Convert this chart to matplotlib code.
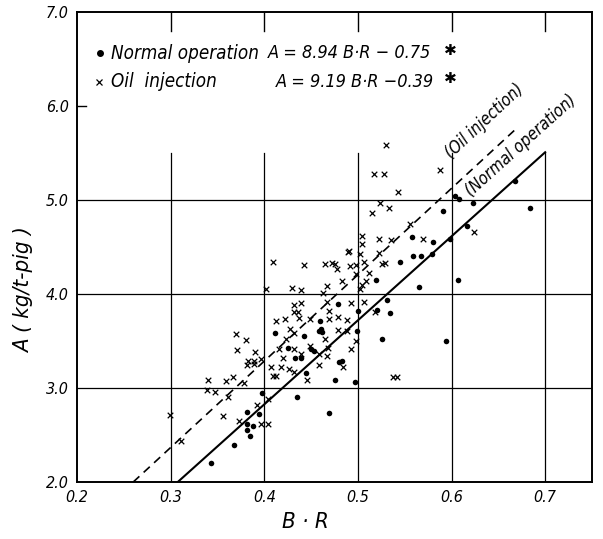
import matplotlib
matplotlib.use("Agg")
import matplotlib.pyplot as plt
from matplotlib import font_manager
import numpy as np

# ---------------- data ----------------
normal_x = [0.343, 0.368, 0.382, 0.382, 0.382, 0.388, 0.385, 0.398, 0.394, 0.435,
            0.469, 0.475, 0.497, 0.483, 0.445, 0.411, 0.442, 0.458, 0.461, 0.462,
            0.450, 0.453, 0.425, 0.433, 0.439, 0.480, 0.459, 0.479, 0.500, 0.519,
            0.499, 0.526, 0.531, 0.534, 0.545, 0.594, 0.565, 0.607, 0.559, 0.567,
            0.579, 0.598, 0.580, 0.558, 0.616, 0.591, 0.604, 0.608, 0.623, 0.668,
            0.684, 0.520]
normal_y = [2.20, 2.39, 2.75, 2.62, 2.55, 2.60, 2.49, 2.95, 2.72, 2.90,
            2.73, 3.08, 3.06, 3.29, 3.16, 3.58, 3.55, 3.61, 3.63, 3.60,
            3.41, 3.39, 3.43, 3.32, 3.32, 3.28, 3.71, 3.89, 3.82, 4.15,
            3.61, 3.52, 3.94, 3.80, 4.34, 3.50, 4.07, 4.15, 4.40, 4.40,
            4.43, 4.58, 4.55, 4.61, 4.72, 4.88, 5.04, 5.01, 4.97, 5.20,
            4.91, 3.83]

oil_x = [0.299, 0.311, 0.340, 0.339, 0.347, 0.359, 0.367, 0.378, 0.361, 0.356,
         0.373, 0.392, 0.397, 0.404, 0.404, 0.370, 0.381, 0.371, 0.382, 0.389,
         0.396, 0.390, 0.407, 0.409, 0.412, 0.418, 0.426, 0.432, 0.416, 0.420,
         0.432, 0.439, 0.449, 0.423, 0.432, 0.427, 0.412, 0.422, 0.432, 0.439,
         0.432, 0.436, 0.437, 0.449, 0.465, 0.468, 0.467, 0.458, 0.458, 0.484,
         0.446, 0.538, 0.479, 0.488, 0.498, 0.493, 0.469, 0.469, 0.479, 0.488,
         0.467, 0.493, 0.507, 0.518, 0.402, 0.430, 0.439, 0.463, 0.467, 0.483,
         0.502, 0.504, 0.509, 0.498, 0.512, 0.478, 0.409, 0.442, 0.465, 0.472,
         0.475, 0.492, 0.498, 0.507, 0.526, 0.489, 0.502, 0.530, 0.517, 0.528,
         0.543, 0.524, 0.533, 0.515, 0.588, 0.556, 0.570, 0.624, 0.504, 0.522,
         0.535, 0.504, 0.490, 0.522, 0.529, 0.542, 0.383, 0.389]
oil_y = [2.71, 2.44, 3.09, 2.98, 2.96, 3.07, 3.12, 3.05, 2.90, 2.70,
         2.65, 2.82, 2.62, 2.62, 2.88, 3.57, 3.51, 3.40, 3.25, 3.26,
         3.31, 3.38, 3.22, 3.13, 3.13, 3.22, 3.20, 3.17, 3.42, 3.32,
         3.42, 3.36, 3.45, 3.52, 3.58, 3.63, 3.71, 3.73, 3.88, 3.90,
         3.81, 3.81, 3.74, 3.73, 3.52, 3.43, 3.34, 3.36, 3.25, 3.22,
         3.08, 3.12, 3.62, 3.61, 3.50, 3.41, 3.82, 3.73, 3.76, 3.72,
         3.91, 3.90, 3.92, 3.81, 4.05, 4.06, 4.04, 4.01, 4.08, 4.14,
         4.05, 4.10, 4.14, 4.21, 4.22, 4.27, 4.34, 4.31, 4.32, 4.33,
         4.32, 4.30, 4.31, 4.34, 4.32, 4.45, 4.43, 5.58, 5.28, 5.28,
         5.08, 4.97, 4.92, 4.86, 5.32, 4.75, 4.59, 4.66, 4.62, 4.59,
         4.57, 4.53, 4.46, 4.44, 4.33, 3.12, 3.29, 3.29]

normal_coef = (8.94, -0.75)
oil_coef = (9.19, -0.39)
normal_range = (2.75 / 8.94, 0.700)
oil_range = (2.39 / 9.19, 0.668)

x_ticks = [0.2, 0.3, 0.4, 0.5, 0.6, 0.7]
y_ticks = [2.0, 3.0, 4.0, 5.0, 6.0, 7.0]

# ---------------- font ----------------
plt.rcParams['font.family'] = ['DejaVu Sans']
_f = font_manager.findfont(font_manager.FontProperties(
    family='DejaVu Sans', style='italic', stretch='condensed'))
COND = 'Condensed' in _f
STRETCH = 'condensed' if COND else 'normal'
K = 1.0 if COND else 0.9   # scale font sizes if no condensed face

def T(size):
    return dict(fontstyle='italic', fontstretch=STRETCH, fontsize=size * K)

# ---------------- figure ----------------
fig = plt.figure(figsize=(6.03, 5.39), dpi=100)
ax = fig.add_axes([77/603, 57/539, 515/603, 470/539])
ax.set_xlim(0.2, 0.75)
ax.set_ylim(2.0, 7.0)

for s in ax.spines.values():
    s.set_linewidth(1.4)
    s.set_color('black')

ax.set_xticks(x_ticks)
ax.set_yticks(y_ticks)
ax.set_xticklabels([f"{t:.1f}" for t in x_ticks], **T(11.5))
ax.set_yticklabels([f"{t:.1f}" for t in y_ticks], **T(11.5))
ax.tick_params(length=0, pad=6)

# grid lines
for yv in [3.0, 4.0, 5.0]:
    ax.plot([0.2, 0.75], [yv, yv], color='black', lw=0.9, zorder=1)
ax.plot([0.2, 0.21], [6.0, 6.0], color='black', lw=1.0, zorder=1)
for xv in [0.3, 0.4, 0.5, 0.6, 0.7]:
    ax.plot([xv, xv], [2.0, 5.5], color='black', lw=0.9, zorder=1)
    ax.plot([xv, xv], [6.8, 7.0], color='black', lw=1.0, zorder=1)

# regression lines
xs = np.array(normal_range)
ax.plot(xs, normal_coef[0]*xs + normal_coef[1], color='black', lw=1.5, zorder=2)
xo = np.array(oil_range)
ax.plot(xo, oil_coef[0]*xo + oil_coef[1], color='black', lw=1.2,
        linestyle=(0, (5, 3.5)), zorder=2)

# points
ax.scatter(normal_x, normal_y, s=16, c='black', marker='o', zorder=3, linewidths=0)
ax.scatter(oil_x, oil_y, s=16, c='black', marker='x', zorder=3, linewidths=0.9)

# legend text
ax.plot([0.2245], [6.56], 'o', color='black', ms=4, zorder=3)
ax.plot([0.2235], [6.26], 'x', color='black', ms=4, mew=0.9, zorder=3)
ax.text(0.236, 6.56, "Normal operation", va='center', ha='left', **T(13.5))
ax.text(0.404, 6.56, "A = 8.94 B·R − 0.75", va='center', ha='left', **T(13))
ax.text(0.599, 6.59, "✱", fontsize=11, va='center', ha='center')
ax.text(0.236, 6.26, "Oil  injection", va='center', ha='left', **T(13.5))
ax.text(0.412, 6.26, "A = 9.19 B·R −0.39", va='center', ha='left', **T(13))
ax.text(0.599, 6.29, "✱", fontsize=11, va='center', ha='center')

# line labels
ax.text(0.603, 5.40, "(Oil injection)", rotation=43, rotation_mode='anchor',
        ha='left', va='bottom', **T(12))
ax.text(0.624, 5.00, "(Normal operation)", rotation=42, rotation_mode='anchor',
        ha='left', va='bottom', **T(12))

fig.text(305/603, 17/539, "B · R", ha='center', va='center', **T(16))
fig.text(24/603, 1 - 290/539, "A ( kg/t-pig )", rotation=90,
         ha='center', va='center', **T(16))

fig.savefig("out.png", dpi=100)
